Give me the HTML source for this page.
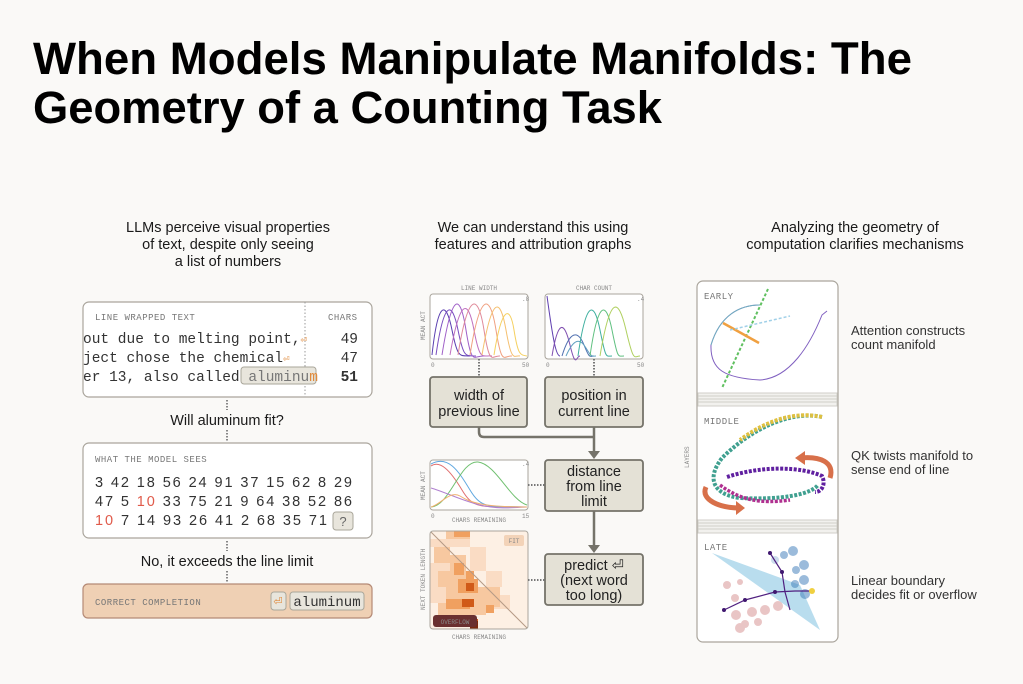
<!DOCTYPE html>
<html><head><meta charset="utf-8"><style>
html,body{margin:0;padding:0;background:#faf9f7;}
svg{display:block}
.h{font-family:"Liberation Sans",sans-serif;font-size:14.5px;fill:#1a1a1a;text-anchor:middle}
.m{font-family:"Liberation Mono",monospace;fill:#333}
.lb{font-family:"Liberation Mono",monospace;font-size:9px;fill:#777;letter-spacing:0.5px}
.tiny{font-family:"Liberation Mono",monospace;font-size:6px;fill:#888}
.nd{font-family:"Liberation Sans",sans-serif;font-size:14.5px;fill:#222;text-anchor:middle}
.r{font-family:"Liberation Sans",sans-serif;font-size:13px;fill:#333}
</style></head><body>
<svg width="1023" height="684" viewBox="0 0 1023 684" xmlns="http://www.w3.org/2000/svg">
<rect width="1023" height="684" fill="#faf9f7"/>
<text x="33" y="74" font-family="Liberation Sans,sans-serif" font-weight="bold" font-size="45" textLength="879" lengthAdjust="spacingAndGlyphs" fill="#000">When Models Manipulate Manifolds: The</text>
<text x="33" y="123" font-family="Liberation Sans,sans-serif" font-weight="bold" font-size="45" textLength="629" lengthAdjust="spacingAndGlyphs" fill="#000">Geometry of a Counting Task</text>

<text class="h" x="228" y="232">LLMs perceive visual properties</text>
<text class="h" x="228" y="249">of text, despite only seeing</text>
<text class="h" x="228" y="266">a list of numbers</text>
<text class="h" x="533" y="232">We can understand this using</text>
<text class="h" x="533" y="249">features and attribution graphs</text>
<text class="h" x="855" y="232">Analyzing the geometry of</text>
<text class="h" x="855" y="249">computation clarifies mechanisms</text>

<!-- LEFT -->
<rect x="83" y="302" width="289" height="95" rx="6" fill="#fff" stroke="#aaa59c" stroke-width="1.2"/>
<line x1="305" y1="302" x2="305" y2="397" stroke="#999" stroke-dasharray="1.5,2"/>
<text class="lb" x="95" y="320">LINE WRAPPED TEXT</text>
<text class="lb" x="328" y="320">CHARS</text>
<text class="m" x="83" y="343" font-size="14.5">out due to melting point,<tspan fill="#e08a3c" font-size="11">⏎</tspan></text>
<text class="m" x="83" y="362" font-size="14.5">ject chose the chemical<tspan fill="#e08a3c" font-size="11">⏎</tspan></text>
<rect x="241" y="367" width="75" height="17" rx="3" fill="#e8e5dc" stroke="#a9a69a"/>
<text class="m" x="83" y="381" font-size="14.5">er 13, also called <tspan fill="#777">aluminu</tspan><tspan fill="#e08a3c">m</tspan></text>
<text class="m" x="358" y="343" font-size="14.5" text-anchor="end" fill="#555">49</text>
<text class="m" x="358" y="362" font-size="14.5" text-anchor="end" fill="#555">47</text>
<text class="m" x="358" y="381" font-size="14.5" text-anchor="end" fill="#d9661e" font-weight="bold">51</text>
<line x1="227" y1="400" x2="227" y2="410" stroke="#888" stroke-dasharray="1.5,1.5" stroke-width="2"/>
<text class="h" x="227" y="425" font-size="13">Will aluminum fit?</text>
<line x1="227" y1="430" x2="227" y2="441" stroke="#888" stroke-dasharray="1.5,1.5" stroke-width="2"/>

<rect x="83" y="443" width="289" height="95" rx="6" fill="#fff" stroke="#aaa59c" stroke-width="1.2"/>
<text class="lb" x="95" y="462">WHAT THE MODEL SEES</text>
<g font-family="Liberation Sans,sans-serif" font-size="14.5" fill="#333">
<text x="95" y="487" textLength="257" lengthAdjust="spacing">3 42 18 56 24 91 37 15 62 8 29</text>
<text x="95" y="506" textLength="257" lengthAdjust="spacing">47 5 <tspan fill="#e05a4a">10</tspan> 33 75 21 9 64 38 52 86</text>
<text x="95" y="525" textLength="232" lengthAdjust="spacing"><tspan fill="#e05a4a">10</tspan> 7 14 93 26 41 2 68 35 71</text>
</g>
<rect x="333" y="512" width="20" height="18" rx="3" fill="#e8e5dc" stroke="#a9a69a"/>
<text x="343" y="526" font-family="Liberation Sans,sans-serif" font-size="13" fill="#666" text-anchor="middle">?</text>
<line x1="227" y1="541" x2="227" y2="551" stroke="#888" stroke-dasharray="1.5,1.5" stroke-width="2"/>
<text class="h" x="227" y="566" font-size="13">No, it exceeds the line limit</text>
<line x1="227" y1="571" x2="227" y2="582" stroke="#888" stroke-dasharray="1.5,1.5" stroke-width="2"/>
<rect x="83" y="584" width="289" height="34" rx="5" fill="#efd0b4" stroke="#b58a76" stroke-width="1.2"/>
<text class="lb" x="95" y="605" fill="#8a5a40">CORRECT COMPLETION</text>
<rect x="271" y="592" width="15" height="18" rx="3" fill="#e8e5dc" stroke="#a9a69a"/>
<text x="278" y="605" font-size="11" fill="#e08a3c" text-anchor="middle" font-family="DejaVu Sans,sans-serif">⏎</text>
<rect x="290" y="592" width="74" height="18" rx="3" fill="#e8e5dc" stroke="#a9a69a"/>
<text class="m" x="327" y="606" font-size="14" text-anchor="middle">aluminum</text>

<!-- MIDDLE -->
<text class="tiny" x="479" y="290" text-anchor="middle">LINE WIDTH</text>
<text class="tiny" x="594" y="290" text-anchor="middle">CHAR COUNT</text>
<rect x="430" y="294" width="98" height="65" rx="3" fill="#fff" stroke="#aaa59c"/>
<rect x="545" y="294" width="98" height="65" rx="3" fill="#fff" stroke="#aaa59c"/>
<text class="tiny" x="0" y="0" transform="translate(425,340) rotate(-90)">MEAN ACT</text>
<g fill="none" stroke-width="1">
<path d="M432 355 C438 300 446 300 452 330 S460 355 470 356" stroke="#5a3fb0"/>
<path d="M436 355 C444 300 452 300 458 330 S466 355 476 356" stroke="#7a4fc0"/>
<path d="M442 355 C452 292 460 292 466 330 S474 355 484 356" stroke="#a060c8"/>
<path d="M450 355 C460 298 468 298 474 330 S482 355 492 356" stroke="#c070c0"/>
<path d="M458 355 C468 292 478 292 484 330 S492 355 500 356" stroke="#e08a9a"/>
<path d="M470 355 C480 292 490 292 496 330 S504 355 512 356" stroke="#f0a080"/>
<path d="M482 355 C492 296 500 296 506 330 S514 355 520 356" stroke="#f5c070"/>
<path d="M494 355 C502 305 510 305 514 330 S520 355 527 356" stroke="#f5d060"/>
<path d="M547 296 C553 340 556 356 560 356" stroke="#6040b0"/>
<path d="M552 356 C558 320 564 320 570 345 S576 356 580 356" stroke="#8050b0"/>
<path d="M562 356 C570 330 578 330 584 345 S590 356 594 356" stroke="#5070b0"/>
<path d="M566 356 C574 338 580 338 586 348 S592 356 596 356" stroke="#60a0c0"/>
<path d="M578 356 C586 300 594 300 600 330 S606 356 612 356" stroke="#40b0a0"/>
<path d="M590 356 C598 300 606 300 612 330 S618 356 624 356" stroke="#60c080"/>
<path d="M600 356 C610 296 618 296 626 330 S634 356 640 356" stroke="#b0d060"/>
</g>
<text class="tiny" x="431" y="367">0</text><text class="tiny" x="522" y="367">50</text>
<text class="tiny" x="546" y="367">0</text><text class="tiny" x="637" y="367">50</text>
<text class="tiny" x="522" y="301">.8</text><text class="tiny" x="637" y="301">.4</text>
<line x1="479" y1="359" x2="479" y2="376" stroke="#777" stroke-dasharray="1.5,1.5" stroke-width="2"/>
<line x1="594" y1="359" x2="594" y2="376" stroke="#777" stroke-dasharray="1.5,1.5" stroke-width="2"/>
<g fill="#e4e1d6" stroke="#75736a" stroke-width="1.8">
<rect x="430" y="377" width="97" height="50" rx="3"/>
<rect x="545" y="377" width="98" height="50" rx="3"/>
<rect x="545" y="460" width="98" height="51" rx="3"/>
<rect x="545" y="554" width="98" height="51" rx="3"/>
</g>
<text class="nd" x="479" y="400">width of</text><text class="nd" x="479" y="416">previous line</text>
<text class="nd" x="594" y="400">position in</text><text class="nd" x="594" y="416">current line</text>
<text class="nd" x="594" y="476">distance</text><text class="nd" x="594" y="491">from line</text><text class="nd" x="594" y="506">limit</text>
<text class="nd" x="594" y="570">predict ⏎</text><text class="nd" x="594" y="585">(next word</text><text class="nd" x="594" y="600">too long)</text>
<path d="M479 427 V432 Q479 437 484 437 H594" fill="none" stroke="#75736a" stroke-width="2.5"/>
<line x1="594" y1="427" x2="594" y2="452" stroke="#75736a" stroke-width="2.5"/>
<path d="M588 451 L600 451 L594 459 Z" fill="#75736a"/>
<line x1="594" y1="511" x2="594" y2="546" stroke="#75736a" stroke-width="2.5"/>
<path d="M588 545 L600 545 L594 553 Z" fill="#75736a"/>

<rect x="430" y="460" width="98" height="50" rx="3" fill="#fff" stroke="#aaa59c"/>
<text class="tiny" x="0" y="0" transform="translate(425,500) rotate(-90)">MEAN ACT</text>
<g fill="none" stroke-width="1">
<path d="M431 466 C440 460 450 470 462 490 S480 506 527 507" stroke="#e07070"/>
<path d="M431 464 C448 455 458 470 470 490 S490 506 527 507" stroke="#60a8e0"/>
<path d="M431 507 C450 506 460 460 478 462 S510 500 527 505" stroke="#70c070"/>
<path d="M431 488 C445 492 460 500 480 505 S520 507 527 507" stroke="#b080d0"/>
<path d="M431 507 C440 505 450 490 460 496 S480 507 527 507" stroke="#f0b070"/>
</g>
<text class="tiny" x="431" y="518">0</text><text class="tiny" x="522" y="518">15</text><text class="tiny" x="522" y="466">.4</text>
<text class="tiny" x="479" y="522" text-anchor="middle">CHARS REMAINING</text>
<line x1="528" y1="485" x2="545" y2="485" stroke="#777" stroke-dasharray="1.5,1.5" stroke-width="2"/>

<!-- heatmap -->
<clipPath id="hc"><rect x="430" y="531" width="98" height="98" rx="3"/></clipPath>
<g clip-path="url(#hc)">
<rect x="430" y="531" width="98" height="98" fill="#fdf0e4"/>
<g fill="#fadcc4">
<rect x="430" y="539" width="40" height="8"/><rect x="430" y="563" width="20" height="40"/><rect x="470" y="547" width="16" height="24"/><rect x="486" y="571" width="16" height="16"/><rect x="494" y="595" width="16" height="14"/>
</g>
<g fill="#f7c8a0">
<rect x="446" y="531" width="24" height="8"/><rect x="434" y="547" width="16" height="16"/><rect x="450" y="555" width="16" height="16"/>
<rect x="438" y="571" width="32" height="16"/><rect x="446" y="587" width="40" height="16"/><rect x="438" y="603" width="48" height="12"/>
<rect x="470" y="587" width="30" height="20"/>
</g>
<g fill="#f0a060">
<rect x="454" y="563" width="10" height="12"/><rect x="458" y="579" width="20" height="14"/><rect x="446" y="599" width="24" height="10"/><rect x="466" y="571" width="8" height="8"/>
<rect x="486" y="605" width="8" height="8"/><rect x="454" y="531" width="16" height="6"/>
</g>
<g fill="#d05a18">
<rect x="466" y="583" width="8" height="8"/><rect x="462" y="599" width="12" height="8"/><rect x="470" y="619" width="8" height="10"/>
</g>
<rect x="470" y="621" width="8" height="8" fill="#7a2a10"/>
<line x1="430" y1="531" x2="528" y2="629" stroke="#b59a86" stroke-width="1"/>
</g>
<rect x="430" y="531" width="98" height="98" rx="3" fill="none" stroke="#aaa59c"/>
<rect x="504" y="535" width="20" height="11" rx="2" fill="#f3d3b8"/>
<text class="tiny" x="514" y="543" text-anchor="middle" fill="#5a4030" font-size="7">FIT</text>
<rect x="433" y="615" width="44" height="12" rx="3" fill="#6a3030"/>
<text class="tiny" x="455" y="624" text-anchor="middle" fill="#fff" font-size="7">OVERFLOW</text>
<text class="tiny" x="0" y="0" transform="translate(425,610) rotate(-90)">NEXT TOKEN LENGTH</text>
<text class="tiny" x="479" y="639" text-anchor="middle">CHARS REMAINING</text>
<line x1="528" y1="580" x2="545" y2="580" stroke="#777" stroke-dasharray="1.5,1.5" stroke-width="2"/>

<!-- RIGHT -->
<text class="tiny" x="0" y="0" transform="translate(689,468) rotate(-90)">LAYERS</text>
<rect x="697" y="281" width="141" height="361" rx="6" fill="#fff" stroke="#aaa59c" stroke-width="1.2"/>
<g stroke="#d0cec8" stroke-width="1">
<rect x="698" y="393" width="139" height="13" fill="#f2f1ee"/>
<line x1="698" y1="396" x2="837" y2="396"/><line x1="698" y1="399" x2="837" y2="399"/><line x1="698" y1="402" x2="837" y2="402"/>
<rect x="698" y="520" width="139" height="13" fill="#f2f1ee"/>
<line x1="698" y1="523" x2="837" y2="523"/><line x1="698" y1="526" x2="837" y2="526"/><line x1="698" y1="529" x2="837" y2="529"/>
</g>
<text class="lb" x="704" y="299" font-size="10">EARLY</text>
<text class="lb" x="704" y="424" font-size="10">MIDDLE</text>
<text class="lb" x="704" y="550" font-size="10">LATE</text>
<!-- early -->
<path d="M760 305 C740 305 720 315 711 345 C710 370 725 378 760 380 C790 378 810 345 822 315 L827 311" fill="none" stroke="#8060c0" stroke-width="1"/>
<path d="M760 305 C740 305 720 315 711 345" fill="none" stroke="#70b0c0" stroke-width="1"/>
<line x1="768" y1="289" x2="722" y2="388" stroke="#60c060" stroke-width="2" stroke-dasharray="3,2"/>
<line x1="723" y1="323" x2="759" y2="343" stroke="#f0a040" stroke-width="2.5"/>
<line x1="730" y1="330" x2="790" y2="316" stroke="#a0d0e8" stroke-width="1.5" stroke-dasharray="3,2"/>
<!-- middle -->
<path d="M822 417 C790 410 750 430 722 458 C705 480 715 495 740 498 C780 500 810 495 818 485" fill="none" stroke="#40a090" stroke-width="4" stroke-dasharray="3,1.5"/>
<path d="M822 417 C790 410 760 425 740 440" fill="none" stroke="#e0c040" stroke-width="4" stroke-dasharray="3,1.5"/>
<path d="M727 477 C760 466 800 466 822 476 C826 484 822 492 815 492" fill="none" stroke="#6020a0" stroke-width="4" stroke-dasharray="3,1.5"/>
<path d="M720 485 C740 500 760 504 790 500" fill="none" stroke="#b03090" stroke-width="3.5" stroke-dasharray="3,1.5"/>
<path d="M800 458 C820 456 835 462 830 478" fill="none" stroke="#d8704a" stroke-width="5"/>
<path d="M795 458 L805 451 L805 465 Z" fill="#d8704a"/>
<path d="M706 487 C700 500 720 508 740 508" fill="none" stroke="#d8704a" stroke-width="5"/>
<path d="M745 508 L736 501 L736 515 Z" fill="#d8704a"/>
<!-- late -->
<path d="M712 553 L800 585 L820 630 Z" fill="#a8d4ea" opacity="0.8"/>
<g fill="#3a7ab8" opacity="0.5"><circle cx="793" cy="551" r="5"/><circle cx="804" cy="565" r="5"/><circle cx="804" cy="580" r="5"/><circle cx="805" cy="594" r="5"/><circle cx="784" cy="555" r="4"/><circle cx="796" cy="570" r="4"/><circle cx="795" cy="584" r="4"/><circle cx="775" cy="560" r="4" opacity="0.5"/></g>
<g fill="#d08080" opacity="0.45"><circle cx="736" cy="615" r="5"/><circle cx="740" cy="628" r="5"/><circle cx="752" cy="612" r="5"/><circle cx="765" cy="610" r="5"/><circle cx="778" cy="606" r="5"/><circle cx="727" cy="585" r="4"/><circle cx="735" cy="598" r="4"/><circle cx="745" cy="624" r="4"/><circle cx="758" cy="622" r="4"/><circle cx="740" cy="582" r="3"/></g>
<path d="M724 610 L745 600 L775 592 L795 591 L812 591" fill="none" stroke="#502080" stroke-width="1.2"/>
<path d="M770 553 L782 572 L785 592 L790 610" fill="none" stroke="#502080" stroke-width="1.2"/>
<g fill="#401870"><circle cx="724" cy="610" r="2"/><circle cx="745" cy="600" r="2"/><circle cx="775" cy="592" r="2"/><circle cx="770" cy="553" r="2"/><circle cx="782" cy="572" r="2"/></g>
<circle cx="812" cy="591" r="3" fill="#f0d040"/>

<text class="r" x="851" y="335">Attention constructs</text><text class="r" x="851" y="349">count manifold</text>
<text class="r" x="851" y="460">QK twists manifold to</text><text class="r" x="851" y="474">sense end of line</text>
<text class="r" x="851" y="585">Linear boundary</text><text class="r" x="851" y="599">decides fit or overflow</text>
</svg>
</body></html>
